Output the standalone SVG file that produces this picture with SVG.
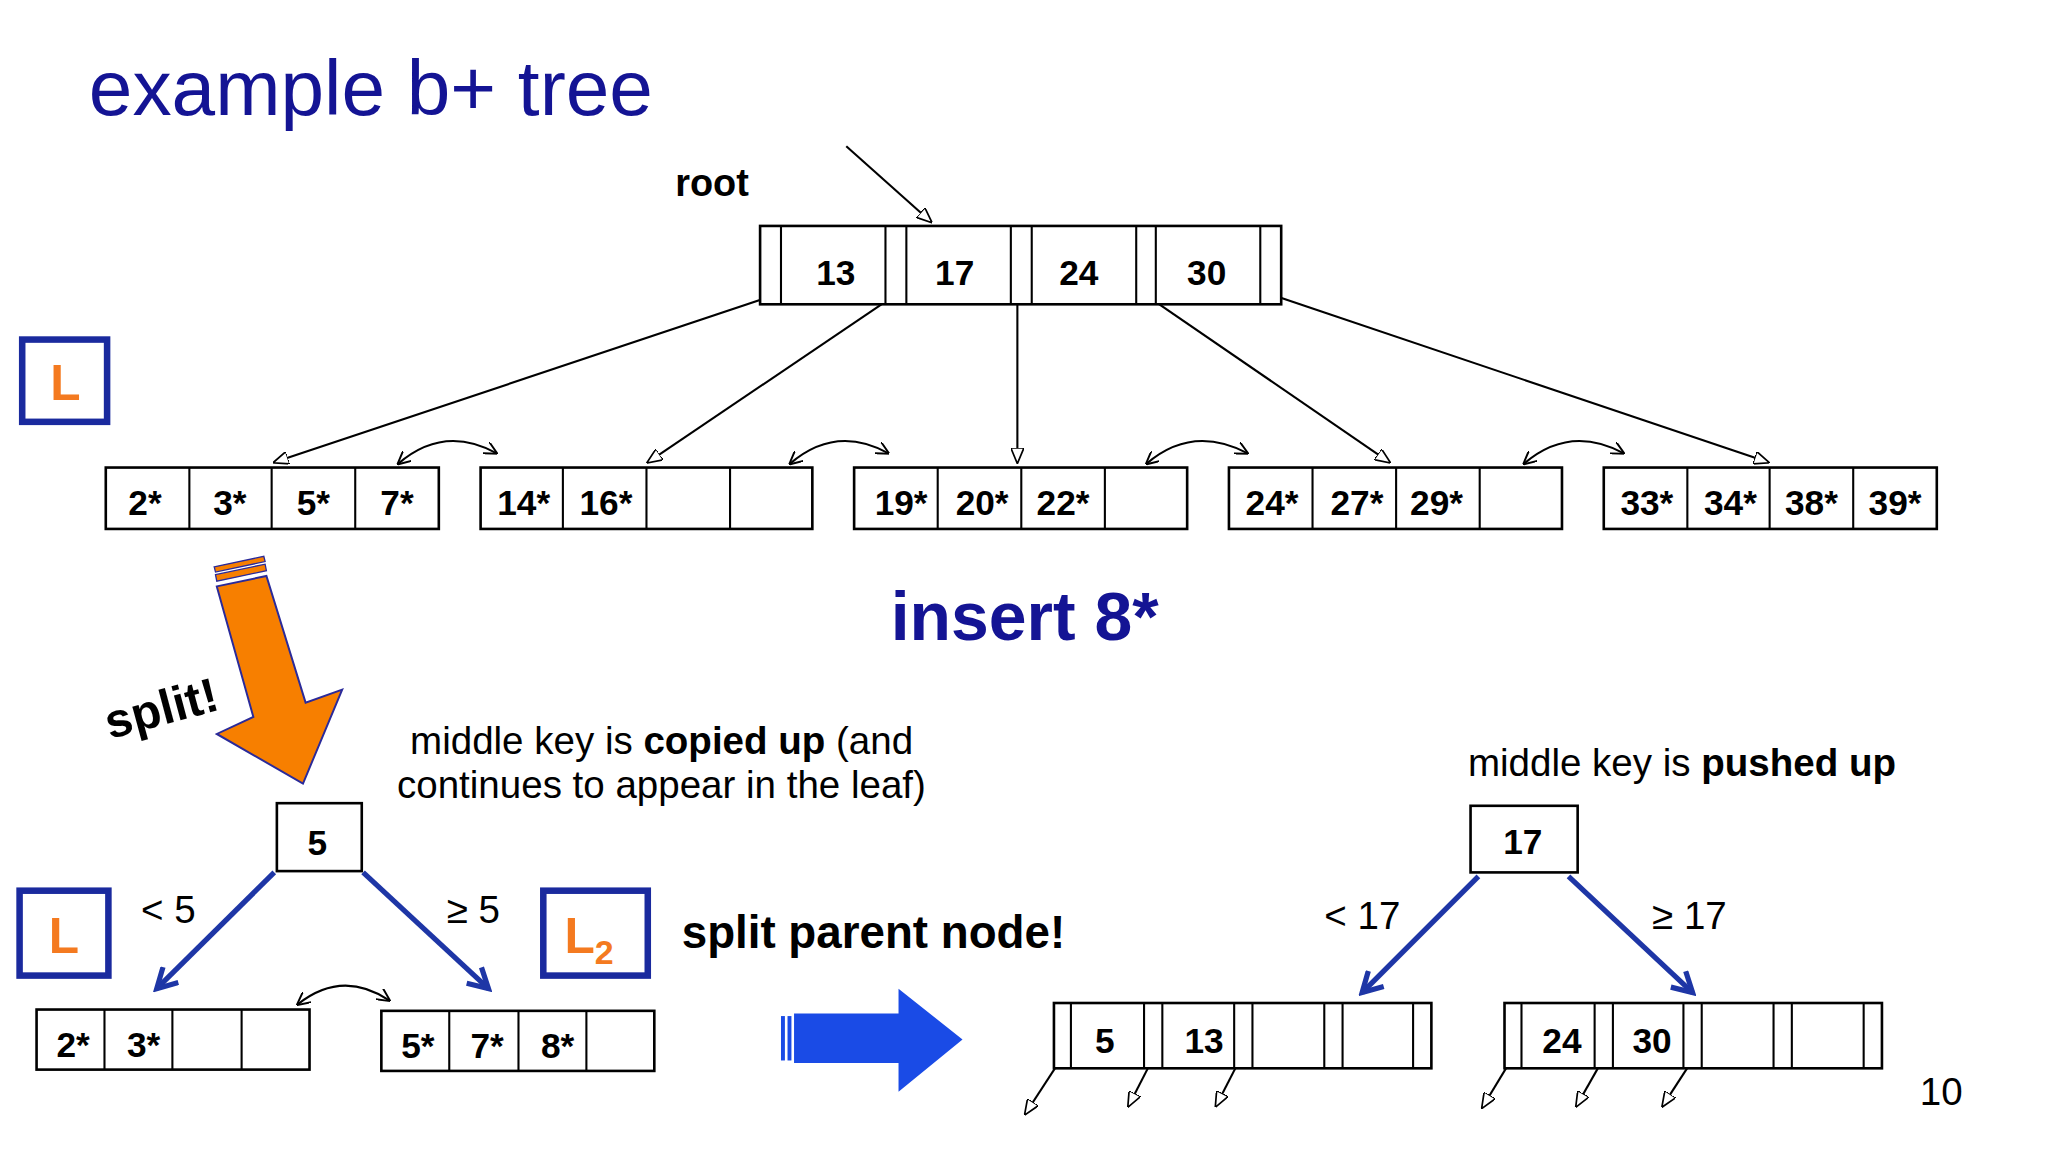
<svg xmlns="http://www.w3.org/2000/svg" width="2048" height="1152" viewBox="0 0 2048 1152">
<defs>
<style>
text{font-family:"Liberation Sans",Arial,sans-serif;}
.k{font-size:27px;font-weight:bold;text-anchor:middle;fill:#000}
.c{fill:#fff;stroke:#000;stroke-width:2}
.ln{stroke:#000;stroke-width:1.6;fill:none}
.bl{stroke:#1e36a6;stroke-width:4;fill:none}
.lb{fill:#fff;stroke:#1a2a9e;stroke-width:5}
.or{fill:#f47a20;font-size:38px;font-weight:bold;text-anchor:middle}
.t{font-size:29.5px;fill:#000}
</style>
<marker id="h" viewBox="0 0 12 10" refX="11" refY="5" markerWidth="12" markerHeight="10" markerUnits="userSpaceOnUse" orient="auto"><path d="M0,0 L12,5 L0,10 Z" fill="#fff" stroke="#000" stroke-width="1.3"/></marker>
<marker id="hb" viewBox="0 0 12 12" refX="10" refY="6" markerWidth="5" markerHeight="5" orient="auto"><path d="M1,1 L10,6 L1,11" fill="none" stroke="#1e36a6" stroke-width="2.4"/></marker>
<marker id="hs" viewBox="0 0 10 10" refX="9" refY="5" markerWidth="10" markerHeight="10" markerUnits="userSpaceOnUse" orient="auto-start-reverse"><path d="M0,0 L10,5 L0,10" fill="none" stroke="#000" stroke-width="1.5"/></marker>
</defs>
<rect width="2048" height="1152" fill="#fff"/>
<g transform="scale(1.306)">
<text x="68" y="88" font-size="60" fill="#141494">example b+ tree</text>
<text x="517" y="150" font-size="29" font-weight="bold">root</text>
<g id="connectors">
<line class="ln" x1="648" y1="112" x2="713" y2="170" marker-end="url(#h)"/>
<line class="ln" x1="590" y1="227" x2="210" y2="354" marker-end="url(#h)"/>
<line class="ln" x1="684" y1="227" x2="496" y2="354" marker-end="url(#h)"/>
<line class="ln" x1="779" y1="227" x2="779" y2="354" marker-end="url(#h)"/>
<line class="ln" x1="876" y1="225" x2="1064" y2="354" marker-end="url(#h)"/>
<line class="ln" x1="972" y1="225" x2="1354" y2="354" marker-end="url(#h)"/>
<path class="ln" d="M305,355 Q340,325 380,347" marker-start="url(#hs)" marker-end="url(#hs)"/>
<path class="ln" d="M605,355 Q640,325 680,347" marker-start="url(#hs)" marker-end="url(#hs)"/>
<path class="ln" d="M878,355 Q913,325 955,347" marker-start="url(#hs)" marker-end="url(#hs)"/>
<path class="ln" d="M1167,355 Q1202,325 1243,347" marker-start="url(#hs)" marker-end="url(#hs)"/>
<path class="ln" d="M228,769 Q262,742 298,766" marker-start="url(#hs)" marker-end="url(#hs)"/>
<line class="bl" x1="210" y1="668" x2="120" y2="757" marker-end="url(#hb)"/>
<line class="bl" x1="278" y1="668" x2="374" y2="757" marker-end="url(#hb)"/>
<line class="bl" x1="1132" y1="671" x2="1043" y2="760" marker-end="url(#hb)"/>
<line class="bl" x1="1201" y1="671" x2="1296" y2="760" marker-end="url(#hb)"/>
<line class="ln" x1="813" y1="810" x2="785" y2="853" marker-end="url(#h)"/>
<line class="ln" x1="883" y1="810" x2="864" y2="847" marker-end="url(#h)"/>
<line class="ln" x1="950" y1="810" x2="931" y2="847" marker-end="url(#h)"/>
<line class="ln" x1="1158" y1="810" x2="1135" y2="848" marker-end="url(#h)"/>
<line class="ln" x1="1228" y1="810" x2="1207" y2="847" marker-end="url(#h)"/>
<line class="ln" x1="1297" y1="810" x2="1273" y2="847" marker-end="url(#h)"/>
</g>
<g id="root">
<rect class="c" x="582" y="173" width="399" height="60"/>
<path class="ln" d="M598,173V233M678,173V233M694,173V233M774,173V233M790,173V233M870,173V233M885,173V233M965,173V233"/>
<text class="k" x="640" y="218">13</text><text class="k" x="731" y="218">17</text><text class="k" x="826" y="218">24</text><text class="k" x="924" y="218">30</text>
</g>
<g id="leaf1"><rect class="c" x="81" y="358" width="255" height="47"/><path class="ln" d="M145,358V405M208,358V405M272,358V405"/>
<text class="k" x="111" y="394">2*</text><text class="k" x="176" y="394">3*</text><text class="k" x="240" y="394">5*</text><text class="k" x="304" y="394">7*</text></g>
<g id="leaf2"><rect class="c" x="368" y="358" width="254" height="47"/><path class="ln" d="M431,358V405M495,358V405M559,358V405"/>
<text class="k" x="401" y="394">14*</text><text class="k" x="464" y="394">16*</text></g>
<g id="leaf3"><rect class="c" x="654" y="358" width="255" height="47"/><path class="ln" d="M718,358V405M782,358V405M846,358V405"/>
<text class="k" x="690" y="394">19*</text><text class="k" x="752" y="394">20*</text><text class="k" x="814" y="394">22*</text></g>
<g id="leaf4"><rect class="c" x="941" y="358" width="255" height="47"/><path class="ln" d="M1005,358V405M1069,358V405M1133,358V405"/>
<text class="k" x="974" y="394">24*</text><text class="k" x="1039" y="394">27*</text><text class="k" x="1100" y="394">29*</text></g>
<g id="leaf5"><rect class="c" x="1228" y="358" width="255" height="47"/><path class="ln" d="M1292,358V405M1355,358V405M1419,358V405"/>
<text class="k" x="1261" y="394">33*</text><text class="k" x="1325" y="394">34*</text><text class="k" x="1387" y="394">38*</text><text class="k" x="1451" y="394">39*</text></g>
<g id="L1"><rect class="lb" x="17" y="260" width="65" height="63"/><text class="or" x="50" y="306">L</text></g>
<g id="split-arrow">
<polygon points="166,449 204,441 234,538 262,528 232,600 166,562 194,549" fill="#f77f00" stroke="#2a2a9a" stroke-width="1.5"/>
<polygon points="164,434 202,426 203,430 165,438" fill="#f77f00" stroke="#2a2a9a" stroke-width="1"/>
<polygon points="165,440 203,432 204,437 166,445" fill="#f77f00" stroke="#2a2a9a" stroke-width="1"/>
<text x="84" y="566" font-size="37" font-weight="bold" transform="rotate(-15 84 566)">split!</text>
</g>
<text x="682" y="490" font-size="52" font-weight="bold" fill="#141494">insert 8*</text>
<text class="t" x="314" y="577">middle key is <tspan font-weight="bold">copied up</tspan> (and</text>
<text class="t" x="304" y="611">continues to appear in the leaf)</text>
<g id="n5"><rect class="c" x="212" y="615" width="65" height="52"/><text class="k" x="243" y="655">5</text></g>
<text class="t" x="108" y="707">&lt; 5</text>
<text class="t" x="342" y="707">≥ 5</text>
<g id="L2"><rect class="lb" x="15" y="682" width="68" height="65"/><text class="or" x="49" y="730">L</text></g>
<g id="L3"><rect class="lb" x="416" y="682" width="80" height="65"/><text class="or" x="451" y="730">L<tspan font-size="26" dy="8">2</tspan></text></g>
<text x="522" y="726" font-size="35" font-weight="bold">split parent node!</text>
<g id="leafA"><rect class="c" x="28" y="773" width="209" height="46"/><path class="ln" d="M80,773V819M132,773V819M185,773V819"/>
<text class="k" x="56" y="809">2*</text><text class="k" x="110" y="809">3*</text></g>
<g id="leafB"><rect class="c" x="292" y="774" width="209" height="46"/><path class="ln" d="M344,774V820M397,774V820M449,774V820"/>
<text class="k" x="320" y="810">5*</text><text class="k" x="373" y="810">7*</text><text class="k" x="427" y="810">8*</text></g>
<g id="blue-arrow">
<rect x="598" y="778" width="3" height="34" fill="#1a4be6"/><rect x="603" y="778" width="3" height="34" fill="#1a4be6"/>
<polygon points="608,776 688,776 688,757 737,796 688,836 688,814 608,814" fill="#1a4be6"/>
</g>
<text class="t" x="1124" y="594">middle key is <tspan font-weight="bold">pushed up</tspan></text>
<g id="n17"><rect class="c" x="1126" y="617" width="82" height="51"/><text class="k" x="1166" y="654">17</text></g>
<text class="t" x="1014" y="711">&lt; 17</text>
<text class="t" x="1265" y="711">≥ 17</text>
<g id="inner1"><rect class="c" x="807" y="768" width="289" height="50"/>
<path class="ln" d="M820,768V818M876,768V818M890,768V818M945,768V818M959,768V818M1014,768V818M1028,768V818M1082,768V818"/>
<text class="k" x="846" y="806">5</text><text class="k" x="922" y="806">13</text></g>
<g id="inner2"><rect class="c" x="1152" y="768" width="289" height="50"/>
<path class="ln" d="M1165,768V818M1221,768V818M1235,768V818M1289,768V818M1303,768V818M1358,768V818M1372,768V818M1427,768V818"/>
<text class="k" x="1196" y="806">24</text><text class="k" x="1265" y="806">30</text></g>
<text class="t" x="1470" y="846">10</text>
</g>
</svg>
